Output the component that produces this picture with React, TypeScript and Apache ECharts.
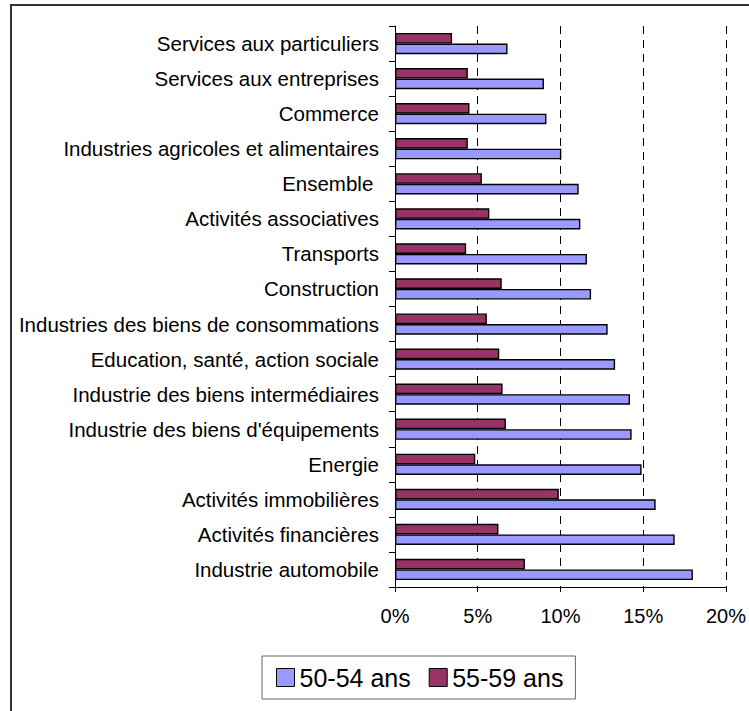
import React, { useEffect, useRef } from "react";
import * as echarts from "echarts";

const categories = [
  "Services aux particuliers",
  "Services aux entreprises",
  "Commerce",
  "Industries agricoles et alimentaires",
  "Ensemble ",
  "Activités associatives",
  "Transports",
  "Construction",
  "Industries des biens de consommations",
  "Education, santé, action sociale",
  "Industrie des biens intermédiaires",
  "Industrie des biens d'équipements",
  "Energie",
  "Activités immobilières",
  "Activités financières",
  "Industrie automobile",
];

const values5054 = [6.8, 9.0, 9.15, 10.05, 11.1, 11.2, 11.6, 11.85, 12.85, 13.3, 14.2, 14.3, 14.9, 15.75, 16.9, 18.0];
const values5559 = [3.45, 4.4, 4.5, 4.4, 5.25, 5.7, 4.3, 6.45, 5.55, 6.3, 6.5, 6.7, 4.85, 9.9, 6.25, 7.85];

const seriesNames = ["50-54 ans", "55-59 ans"];
const xMin = 0;
const xMax = 20;
const xInterval = 5;

const FONT = "'Liberation Sans', Arial, sans-serif";

export default function App() {
  const ref = useRef<HTMLDivElement>(null);
  useEffect(() => {
    const chart = echarts.init(ref.current!, null, { renderer: "svg" });
    chart.setOption({
      animation: false,
      backgroundColor: "#ffffff",
      textStyle: { fontFamily: FONT, color: "#000" },
      graphic: [
        {
          type: "rect",
          shape: { x: 11, y: 5, width: 900, height: 900 },
          style: { fill: "none", stroke: "#333", lineWidth: 2 },
          silent: true,
          z: -1,
        },
      ],
      grid: { left: 395, right: 22, top: 26, bottom: 124, containLabel: false },
      legend: {
        data: seriesNames,
        left: 262,
        top: 656,
        orient: "horizontal",
        padding: [9, 12, 9, 14],
        itemWidth: 18,
        itemHeight: 18,
        itemGap: 18,
        icon: "rect",
        borderColor: "#666",
        borderWidth: 1,
        itemStyle: { borderColor: "#000", borderWidth: 1 },
        textStyle: { fontSize: 25, color: "#000", fontFamily: FONT },
      },
      xAxis: {
        type: "value",
        min: xMin,
        max: xMax,
        interval: xInterval,
        axisLine: { show: true, lineStyle: { color: "#000", width: 1 } },
        axisTick: { show: true, length: 5, lineStyle: { color: "#000" } },
        axisLabel: {
          formatter: "{value}%",
          fontSize: 20,
          color: "#000",
          fontFamily: FONT,
          margin: 19,
        },
        splitLine: { show: true, lineStyle: { color: "#000", type: [8, 6], width: 1 } },
      },
      yAxis: {
        type: "category",
        data: categories,
        inverse: true,
        axisLine: { show: true, lineStyle: { color: "#000", width: 1 } },
        axisTick: { show: true, length: 6, lineStyle: { color: "#000" } },
        axisLabel: { fontSize: 20.5, color: "#000", fontFamily: FONT, margin: 16 },
        splitLine: { show: false },
      },
      series: [
        {
          name: seriesNames[1],
          type: "bar",
          data: values5559,
          barWidth: 10.6,
          barGap: "0%",
          itemStyle: { color: "#993366", borderColor: "#000", borderWidth: 1.4 },
        },
        {
          name: seriesNames[0],
          type: "bar",
          data: values5054,
          barWidth: 10.6,
          barGap: "0%",
          itemStyle: { color: "#9999FF", borderColor: "#000", borderWidth: 1.4 },
        },
      ],
    });
    return () => chart.dispose();
  }, []);
  return (
    <div
      ref={ref}
      style={{ position: "absolute", left: 0, top: 0, width: 749, height: 711, background: "#fff" }}
    />
  );
}
